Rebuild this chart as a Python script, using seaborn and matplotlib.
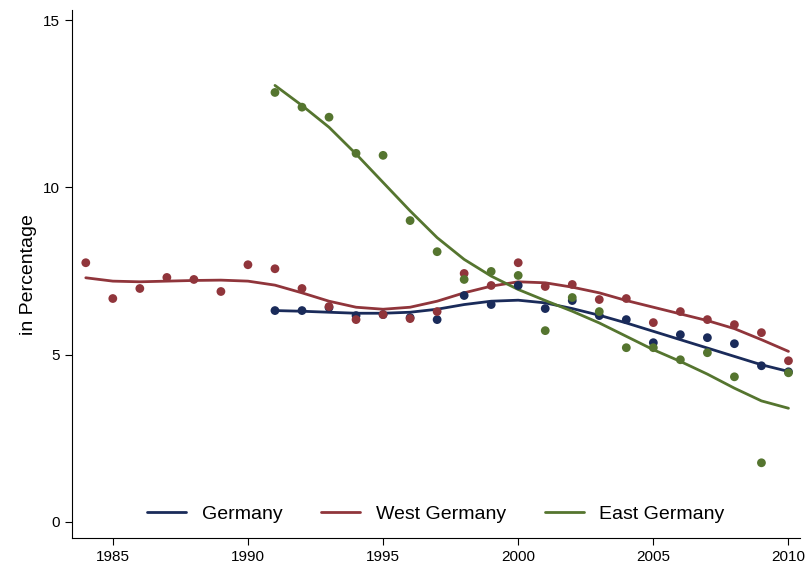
import matplotlib
matplotlib.use('Agg')
import matplotlib.pyplot as plt
import seaborn as sns
import pandas as pd

sns.set_style("white")
plt.rcParams['font.family'] = ['Liberation Sans', 'DejaVu Sans']
plt.rcParams['text.color'] = 'black'
plt.rcParams['axes.labelcolor'] = 'black'
plt.rcParams['xtick.color'] = 'black'
plt.rcParams['ytick.color'] = 'black'

years_w = list(range(1984, 2011))
years_g = list(range(1991, 2011))

west_pts = [7.75, 6.68, 6.98, 7.31, 7.25, 6.89, 7.69, 7.57, 6.98, 6.44, 6.05, 6.20, 6.08, 6.29,
            7.43, 7.07, 7.75, 7.04, 7.10, 6.65, 6.68, 5.96, 6.29, 6.05, 5.90, 5.66, 4.82]
west_fit = [7.30, 7.20, 7.18, 7.20, 7.22, 7.23, 7.20, 7.08, 6.85, 6.60, 6.42, 6.36, 6.42, 6.60,
            6.85, 7.05, 7.18, 7.15, 7.02, 6.85, 6.62, 6.42, 6.22, 6.02, 5.78, 5.45, 5.10]
ger_pts = [6.32, 6.32, 6.41, 6.17, 6.20, 6.11, 6.05, 6.77, 6.50, 7.07,
           6.38, 6.62, 6.17, 6.05, 5.36, 5.60, 5.51, 5.33, 4.67, 4.49]
ger_fit = [6.32, 6.30, 6.27, 6.24, 6.24, 6.27, 6.36, 6.50, 6.60, 6.63,
           6.55, 6.38, 6.18, 5.95, 5.70, 5.45, 5.20, 4.95, 4.70, 4.50]
east_pts = [12.84, 12.40, 12.10, 11.02, 10.96, 9.01, 8.08, 7.25, 7.49, 7.37,
            5.72, 6.71, 6.29, 5.21, 5.21, 4.85, 5.06, 4.34, 1.77, 4.46]
east_fit = [13.05, 12.45, 11.80, 11.00, 10.15, 9.30, 8.50, 7.85, 7.35, 6.95,
            6.62, 6.30, 5.95, 5.55, 5.15, 4.80, 4.42, 4.00, 3.62, 3.40]

colors = {"Germany": "#1a2b5a", "West Germany": "#90353b", "East Germany": "#55752f"}

rows = []
for name, yrs, pts, fit in [("Germany", years_g, ger_pts, ger_fit),
                            ("West Germany", years_w, west_pts, west_fit),
                            ("East Germany", years_g, east_pts, east_fit)]:
    for y, p, f in zip(yrs, pts, fit):
        rows.append({"year": y, "series": name, "value": p, "fit": f})
df = pd.DataFrame(rows)

fig = plt.figure(figsize=(8.06, 5.64), dpi=100)
ax = fig.add_axes([0.089, 0.046, 0.904, 0.936])

sns.lineplot(data=df, x="year", y="fit", hue="series", palette=colors,
             linewidth=2, ax=ax)
sns.scatterplot(data=df, x="year", y="value", hue="series", palette=colors,
                s=40, edgecolor="none", legend=False, ax=ax, zorder=3)

ax.set_xlim(1983.48, 2010.44)
ax.set_ylim(-0.48, 15.3)
ax.set_xticks([1985, 1990, 1995, 2000, 2005, 2010])
ax.set_yticks([0, 5, 10, 15])
ax.set_xlabel("")
ax.set_ylabel("in Percentage", fontsize=14)
ax.tick_params(axis='both', labelsize=11, length=5, direction='out',
               left=True, bottom=True)
for s in ["top", "right"]:
    ax.spines[s].set_visible(False)
for s in ["left", "bottom"]:
    ax.spines[s].set_color("black")
    ax.spines[s].set_linewidth(0.8)

ax.legend(loc="lower center", ncol=3, frameon=False, fontsize=14,
          handlelength=2.0, columnspacing=2.0, bbox_to_anchor=(0.5, -0.005))

fig.savefig("out.png", dpi=100)
